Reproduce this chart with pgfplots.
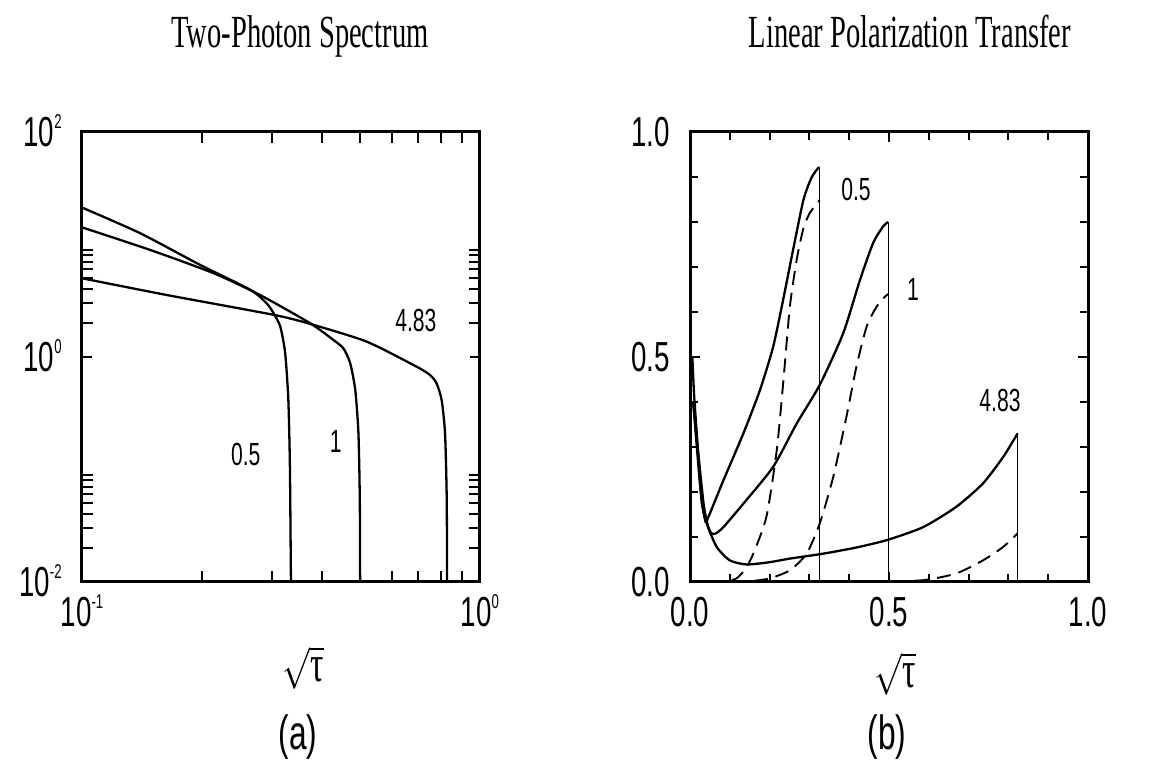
\documentclass[border=0pt]{standalone}
\usepackage{fontspec}
\usepackage{graphicx}
\usepackage{pgfplots}
\pgfplotsset{compat=1.18}
\newfontfamily\nsans[FakeStretch=0.66]{Liberation Sans}
\newfontfamily\nserif[FakeStretch=0.62]{Liberation Serif}
\newfontfamily\gserif[FakeStretch=0.8]{Liberation Serif}
\newcommand{\expo}[1]{\raisebox{9pt}{\fontsize{10}{10}\selectfont #1}}
\newcommand{\sqtau}{\scalebox{0.8}[1]{\fontsize{22}{22}\selectfont$\sqrt{\hbox{\gserif\fontsize{26}{26}\selectfont τ}}$}}

\pgfplotsset{
  panel/.style={
    scale only axis, width=199pt, height=225pt,
    axis line style={line width=1.5pt},
    every tick/.style={black, line width=1pt},
    major tick length=5pt, minor tick length=4pt,
    tick align=inside,
    xticklabel style={font=\nsans\fontsize{21}{21}\selectfont, anchor=base, yshift=-22.5pt, inner sep=1pt},
    yticklabel style={font=\nsans\fontsize{21}{21}\selectfont, anchor=base east, xshift=-9pt, yshift=-7.5pt, inner sep=1pt},
  },
}
\tikzset{
  curve/.style={black, line width=1.15pt, line join=round, smooth, tension=0.4},
  dcurve/.style={black, line width=0.95pt, dash pattern=on 7pt off 4pt, smooth, tension=0.4},
  cut/.style={black, line width=0.7pt},
  lab/.style={font=\nsans\fontsize{16}{16}\selectfont},
}

\begin{document}
\begin{tikzpicture}
\path[use as bounding box] (-41pt,-99pt) rectangle (534.5pt,291pt);

% (a) two-photon spectrum
\begin{axis}[panel, at={(0,0)}, anchor=south west,
  xmode=log, ymode=log,
  minor tick length=5.5pt,
  xmin=0.1, xmax=1, ymin=0.01, ymax=100,
  xtick={0.1,1}, xticklabels={10\expo{-1},10\expo{0}},
  minor xtick={0.2,0.3,0.4,0.5,0.6,0.7,0.8,0.9},
  ytick={0.01,1,100}, yticklabels={10\expo{-2},10\expo{0},10\expo{2}},
  minor ytick={0.02,0.03,0.04,0.05,0.06,0.07,0.08,0.09,2,3,4,5,6,7,8,9},
]
\addplot[curve] coordinates {
  (0.100,21.3) (0.140,12.6) (0.198,6.59) (0.265,3.95) (0.291,3.00)
  (0.303,2.45) (0.315,1.86) (0.324,1.08) (0.330,0.414) (0.333,0.106)
  (0.335,0.01) (0.336,0.005)};
\addplot[curve] coordinates {
  (0.100,14.2) (0.148,8.97) (0.214,5.56) (0.280,3.56) (0.374,2.00)
  (0.428,1.42) (0.454,1.19) (0.472,0.879) (0.486,0.508) (0.495,0.209)
  (0.499,0.05) (0.500,0.005)};
\addplot[curve] coordinates {
  (0.100,5.01) (0.163,3.56) (0.303,2.37) (0.374,1.97) (0.519,1.37)
  (0.693,0.820) (0.749,0.692) (0.778,0.583) (0.801,0.414) (0.817,0.209)
  (0.825,0.0533) (0.827,0.005)};
\node[lab] at (axis cs:0.258,0.135) {0.5};
\node[lab] at (axis cs:0.434,0.176) {1};
\node[lab] at (axis cs:0.690,2.13) {4.83};
\end{axis}

% (b) linear polarization transfer
\begin{axis}[panel, at={(304pt,0)}, anchor=south west,
  xmin=0, xmax=1, ymin=0, ymax=1,
  xtick={0,0.5,1}, xticklabels={0.0,0.5,1.0},
  minor xtick={0.1,0.2,0.3,0.4,0.6,0.7,0.8,0.9},
  ytick={0,0.5,1}, yticklabels={0.0,0.5,1.0},
  minor ytick={0.1,0.2,0.3,0.4,0.6,0.7,0.8,0.9},
]
\addplot[curve] coordinates {
  (0.008,0.400) (0.025,0.219) (0.038,0.137) (0.045,0.142) (0.084,0.226)
  (0.134,0.330) (0.176,0.427) (0.209,0.523) (0.234,0.627) (0.259,0.738)
  (0.285,0.849) (0.305,0.898) (0.322,0.920) (0.326,0.921)};
\addplot[curve] coordinates {
  (0.008,0.400) (0.033,0.182) (0.045,0.125) (0.054,0.108) (0.065,0.108)
  (0.084,0.122) (0.134,0.174) (0.209,0.256) (0.268,0.352) (0.326,0.438)
  (0.385,0.553) (0.427,0.671) (0.460,0.753) (0.485,0.790) (0.498,0.800)};
\addplot[curve] coordinates {
  (0.006,0.500) (0.010,0.420) (0.017,0.330) (0.029,0.180) (0.042,0.130)
  (0.067,0.078) (0.100,0.048) (0.142,0.039) (0.200,0.044) (0.251,0.052)
  (0.335,0.063) (0.420,0.077) (0.498,0.094) (0.586,0.122) (0.669,0.167)
  (0.736,0.219) (0.787,0.278) (0.823,0.330)};
\addplot[dcurve] coordinates {
  (0.050,0.000) (0.090,0.002) (0.117,0.008) (0.140,0.030) (0.159,0.063)
  (0.192,0.145) (0.218,0.293) (0.234,0.441) (0.251,0.612) (0.268,0.716)
  (0.285,0.786) (0.301,0.820) (0.326,0.849)};
\addplot[dcurve] coordinates {
  (0.050,0.000) (0.151,0.002) (0.200,0.008) (0.251,0.026) (0.293,0.063)
  (0.326,0.130) (0.360,0.234) (0.393,0.367) (0.418,0.478) (0.444,0.568)
  (0.469,0.612) (0.490,0.634) (0.498,0.640)};
\addplot[dcurve] coordinates {
  (0.400,0.000) (0.477,0.001) (0.586,0.004) (0.669,0.019) (0.736,0.048)
  (0.787,0.078) (0.823,0.108)};
\addplot[cut] coordinates {(0.326,0.921) (0.326,0)};
\addplot[cut] coordinates {(0.498,0.800) (0.498,0)};
\addplot[cut] coordinates {(0.823,0.330) (0.823,0)};
\node[lab] at (axis cs:0.417,0.873) {0.5};
\node[lab] at (axis cs:0.560,0.651) {1};
\node[lab] at (axis cs:0.779,0.404) {4.83};
\end{axis}

\node[font=\nserif\fontsize{23}{23}\selectfont, anchor=base] at (109pt,267pt) {Two-Photon Spectrum};
\node[font=\nserif\fontsize{23}{23}\selectfont, anchor=base] at (414pt,267pt) {Linear Polarization Transfer};
\node[anchor=base, inner sep=0pt] at (110.5pt,-50pt) {\sqtau};
\node[anchor=base, inner sep=0pt] at (406.5pt,-53pt) {\sqtau};
\node[font=\nsans\fontsize{24}{24}\selectfont, anchor=base] at (108pt,-84pt) {(a)};
\node[font=\nsans\fontsize{24}{24}\selectfont, anchor=base] at (402.5pt,-84pt) {(b)};
\end{tikzpicture}
\end{document}
